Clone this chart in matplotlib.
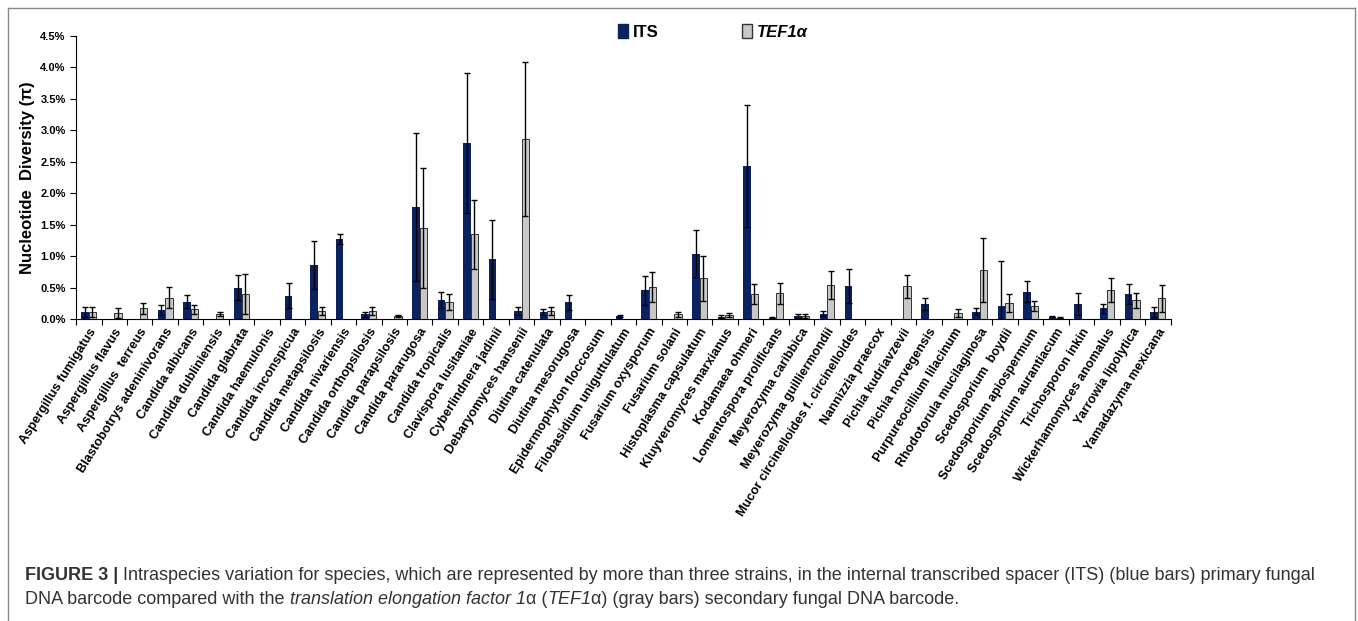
import numpy as np
import matplotlib
matplotlib.use("Agg")
import matplotlib.pyplot as plt
from matplotlib.patches import Rectangle
from matplotlib.lines import Line2D

plt.rcParams['font.family'] = ['Liberation Sans', 'DejaVu Sans']

species = [
    "Aspergillus fumigatus", "Aspergillus flavus", "Aspergillus  terreus", "Blastobotrys adeninivorans",
    "Candida albicans", "Candida dubliniensis", "Candida glabrata", "Candida haemulonis",
    "Candida inconspicua", "Candida metapsilosis", "Candida nivariensis", "Candida orthopsilosis",
    "Candida parapsilosis", "Candida pararugosa", "Candida tropicalis", "Clavispora lusitaniae",
    "Cyberlindnera jadinii", "Debaryomyces hansenii", "Diutina catenulata", "Diutina mesorugosa",
    "Epidermophyton floccosum", "Filobasidium uniguttulatum", "Fusarium oxysporum", "Fusarium solani",
    "Histoplasma capsulatum", "Kluyveromyces marxianus", "Kodamaea ohmeri", "Lomentospora prolificans",
    "Meyerozyma caribbica", "Meyerozyma guilliermondii", "Mucor circinelloides f. circinelloides",
    "Nannizzia praecox", "Pichia kudriavzevii", "Pichia norvegensis", "Purpureocillium lilacinum",
    "Rhodotorula mucilaginosa", "Scedosporium  boydii", "Scedosporium apiospermum",
    "Scedosporium aurantiacum", "Trichosporon inkin", "Wickerhamomyces anomalus",
    "Yarrowia lipolytica", "Yamadazyma mexicana",
]

# values in %
its = [0.12, 0, 0, 0.15, 0.28, 0, 0.50, 0, 0.37, 0.86, 1.28, 0.08, 0, 1.78, 0.30, 2.80,
       0.95, 0.13, 0.11, 0.27, 0, 0.05, 0.46, 0, 1.04, 0.04, 2.44, 0.02, 0.05, 0.09, 0.53,
       0, 0, 0.24, 0, 0.12, 0.21, 0.44, 0.03, 0.24, 0.17, 0.40, 0.11]
its_err = [0.08, 0, 0, 0.08, 0.11, 0, 0.20, 0, 0.20, 0.38, 0.08, 0.04, 0, 1.18, 0.13, 1.12,
           0.63, 0.06, 0.05, 0.12, 0, 0.02, 0.23, 0, 0.37, 0.02, 0.97, 0.01, 0.03, 0.04, 0.27,
           0, 0, 0.10, 0, 0.06, 0.72, 0.17, 0.02, 0.17, 0.07, 0.16, 0.08]
tef = [0.12, 0.10, 0.17, 0.34, 0.16, 0.08, 0.40, 0, 0, 0.13, 0, 0.13, 0.05, 1.45, 0.27, 1.35,
       0, 2.86, 0.13, 0, 0, 0, 0.51, 0.08, 0.65, 0.07, 0.40, 0.41, 0.05, 0.54, 0,
       0, 0.52, 0, 0.10, 0.78, 0.26, 0.21, 0.02, 0, 0.47, 0.30, 0.33]
tef_err = [0.08, 0.08, 0.09, 0.17, 0.07, 0.03, 0.32, 0, 0, 0.06, 0, 0.06, 0.02, 0.95, 0.13, 0.55,
           0, 1.22, 0.06, 0, 0, 0, 0.24, 0.04, 0.36, 0.03, 0.16, 0.17, 0.03, 0.22, 0,
           0, 0.19, 0, 0.06, 0.51, 0.14, 0.08, 0.01, 0, 0.19, 0.12, 0.22]

its = np.array(its) / 100
its_err = np.array(its_err) / 100
tef = np.array(tef) / 100
tef_err = np.array(tef_err) / 100

fig = plt.figure(figsize=(13.58, 6.21), dpi=100)
ax = fig.add_axes([0.056, 0.486, 0.806, 0.456])

x = np.arange(len(species))
w = 0.29
ek = dict(ecolor='black', elinewidth=1, capsize=2, capthick=1)
its_m = np.where(its > 0, its, np.nan)
tef_m = np.where(tef > 0, tef, np.nan)
ax.bar(x - w / 2, its_m, w, color='#0b2160', yerr=np.where(its > 0, its_err, np.nan),
       error_kw=ek, label='ITS')
ax.bar(x + w / 2, tef_m, w, color='#c8c8c8', edgecolor='#333333', linewidth=0.7,
       yerr=np.where(tef > 0, tef_err, np.nan), error_kw=ek, label='TEF1α')

ax.set_xlim(-0.5, len(species) - 0.5)
ax.set_ylim(0, 0.045)
ax.set_yticks(np.arange(0, 0.0451, 0.005))
ax.set_yticklabels([f"{v * 100:.1f}%" for v in np.arange(0, 0.0451, 0.005)],
                   fontsize=8, fontweight='bold')
ax.set_xticks(np.arange(-0.5, len(species), 1))
ax.set_xticklabels([])
ax.set_xticks(x, minor=True)
ax.set_xticklabels(species, minor=True, rotation=58, ha='right', rotation_mode='anchor',
                   fontsize=9.2, fontweight='bold')
ax.tick_params(axis='x', which='minor', length=0, pad=5)
ax.tick_params(axis='x', which='major', length=4, direction='out')
ax.tick_params(axis='y', length=4, direction='out')
for s in ['top', 'right']:
    ax.spines[s].set_visible(False)
ax.set_ylabel('Nucleotide  Diversity (π)', fontsize=12, fontweight='bold')

handles = [Rectangle((0, 0), 1, 1, color='#0b2160'),
           Rectangle((0, 0), 1, 1, facecolor='#c8c8c8', edgecolor='#333333')]
leg = fig.legend(handles, ['ITS', 'TEF1α'], loc='center', bbox_to_anchor=(0.525, 0.948),
                 ncol=2, frameon=False, handlelength=0.6, handleheight=0.9, columnspacing=5,
                 handletextpad=0.3, prop=dict(size=12, weight='bold'))
leg.get_texts()[1].set_style('italic')

# frame: top, left, right lines
X0, X1, Y0 = 8 / 1358, 1355 / 1358, 1 - 8 / 621
for xs, ys in [([X0, X0], [0, Y0]), ([X1, X1], [0, Y0]), ([X0, X1], [Y0, Y0])]:
    fig.add_artist(Line2D(xs, ys, color='#888888', lw=1, transform=fig.transFigure))

# caption
col = '#333333'
fs = 13
t = fig.text(25 / 1358, 1 - 575 / 621, "FIGURE 3 | ", fontsize=fs, fontweight='bold',
             color=col, va='center')
ax.annotate("Intraspecies variation for species, which are represented by more than three strains, "
            "in the internal transcribed spacer (ITS) (blue bars) primary fungal",
            xy=(1, 0.5), xycoords=t, va='center', fontsize=fs, color=col, annotation_clip=False)
line2 = [("DNA barcode compared with the ", 'normal'), ("translation elongation factor 1", 'italic'),
         ("α (", 'normal'), ("TEF1", 'italic'), ("α) (gray bars) secondary fungal DNA barcode.", 'normal')]
prev = fig.text(25 / 1358, 1 - 600 / 621, line2[0][0], fontsize=fs, color=col, va='center')
for s, st in line2[1:]:
    prev = ax.annotate(s, xy=(1, 0.5), xycoords=prev, va='center', fontsize=fs, color=col, style=st,
                       annotation_clip=False)

fig.savefig('out.png', dpi=100)
